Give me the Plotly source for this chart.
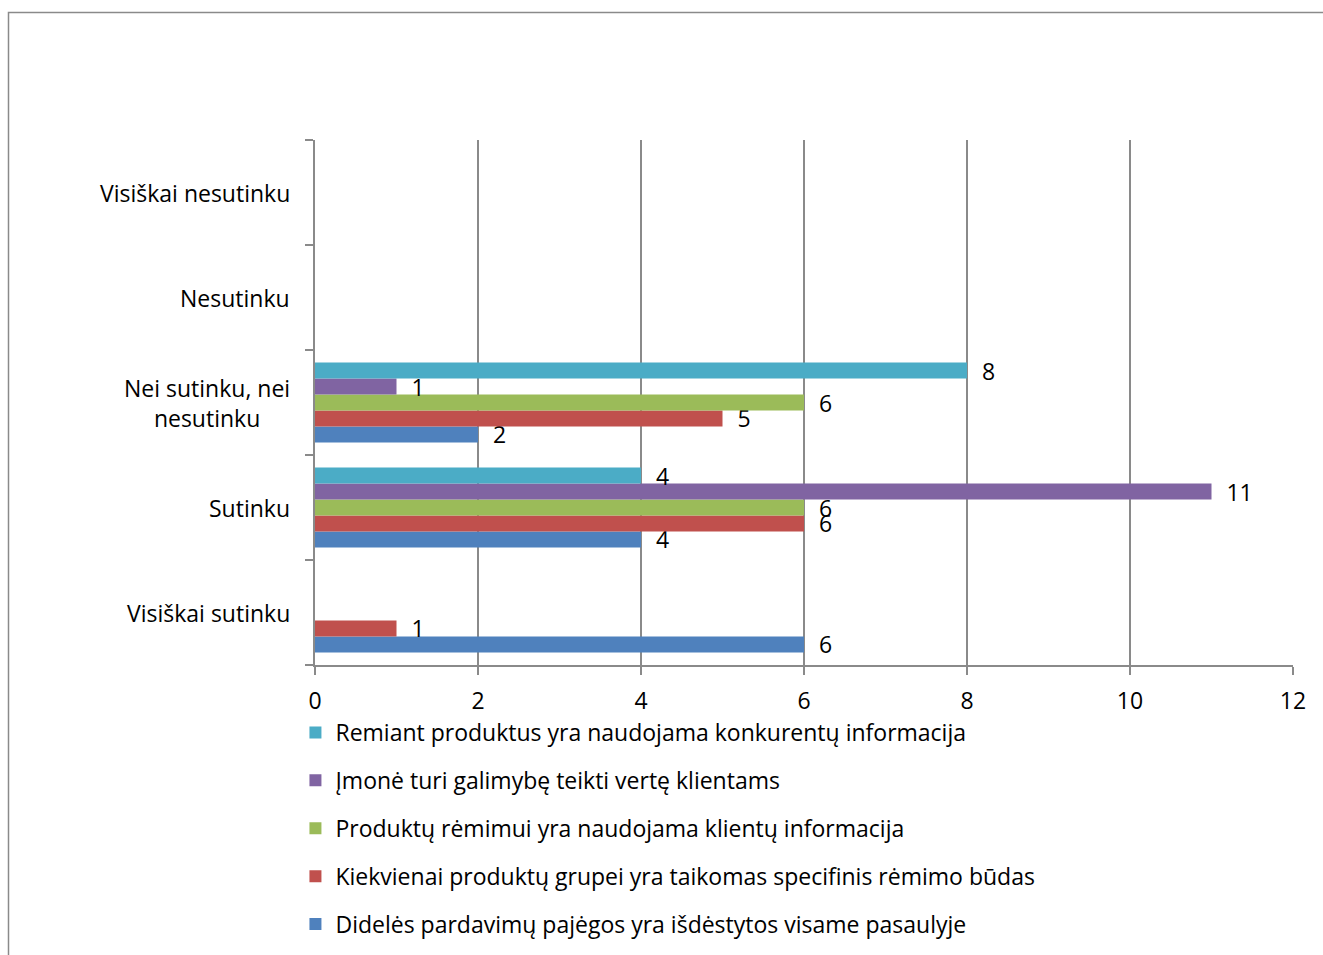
import plotly.graph_objects as go

# Response categories, bottom to top
categories = [
    "Visiškai sutinku",
    "Sutinku",
    "Nei sutinku, nei nesutinku",
    "Nesutinku",
    "Visiškai nesutinku",
]
category_labels = [
    "Visiškai sutinku",
    "Sutinku",
    "Nei sutinku, nei<br>nesutinku",
    "Nesutinku",
    "Visiškai nesutinku",
]

series_names = [
    "Didelės pardavimų pajėgos yra išdėstytos visame pasaulyje",
    "Kiekvienai produktų grupei yra taikomas specifinis rėmimo būdas",
    "Produktų rėmimui yra naudojama klientų informacija",
    "Įmonė turi galimybę teikti vertę klientams",
    "Remiant produktus yra naudojama konkurentų informacija",
]

pardavimu_pajegos = [6, 4, 2, None, None]
specifinis_remimas = [1, 6, 5, None, None]
klientu_informacija = [None, 6, 6, None, None]
verte_klientams = [None, 11, 1, None, None]
konkurentu_informacija = [None, 4, 8, None, None]

series_values = [
    pardavimu_pajegos,
    specifinis_remimas,
    klientu_informacija,
    verte_klientams,
    konkurentu_informacija,
]
colors = ["#4F81BD", "#C0504D", "#9BBB59", "#8064A2", "#4BACC6"]

x_ticks = [0, 2, 4, 6, 8, 10, 12]

FONT = "Open Sans"
FSIZE = 23
GRID = "#8a8a8a"

fig = go.Figure()
n = len(series_names)
for i, (name, vals, col) in enumerate(zip(series_names, series_values, colors)):
    fig.add_trace(
        go.Bar(
            y=categories,
            x=vals,
            name=name,
            orientation="h",
            marker=dict(color=col, line=dict(width=0)),
            text=[None if v is None else f"  {v}" for v in vals],
            textposition="outside",
            textfont=dict(family=FONT, size=FSIZE, color="black"),
            constraintext="none",
            cliponaxis=False,
            legendgroup=name,
            legendrank=n - i,
        )
    )

# category labels (centred multi-line text)
annotations = [
    dict(
        text=lab,
        x=-0.024,
        xref="paper",
        y=cat,
        yref="y",
        xanchor="right",
        yanchor="middle",
        align="center",
        showarrow=False,
        font=dict(family=FONT, size=FSIZE, color="black"),
    )
    for cat, lab in zip(categories, category_labels)
]

# outer chart frame
plot_w, plot_h = 978, 525
frame = dict(
    type="rect",
    xref="paper",
    yref="paper",
    x0=(8.5 - 315) / plot_w,
    x1=(1340 - 315) / plot_w,
    y0=(665 - 980) / plot_h,
    y1=(665 - 12.5) / plot_h,
    line=dict(color="#8a8a8a", width=1.5),
    fillcolor="rgba(0,0,0,0)",
    layer="below",
)

fig.update_layout(
    width=1323,
    height=955,
    margin=dict(l=315, r=30, t=140, b=290, autoexpand=False),
    paper_bgcolor="white",
    plot_bgcolor="white",
    barmode="group",
    bargap=0.24,
    bargroupgap=0,
    font=dict(family=FONT, size=FSIZE, color="black"),
    showlegend=True,
    legend=dict(
        orientation="v",
        traceorder="grouped",
        x=-0.02,
        xanchor="left",
        y=(665 - 711) / plot_h,
        yanchor="top",
        tracegroupgap=15,
        font=dict(family=FONT, size=FSIZE, color="black"),
        bgcolor="rgba(0,0,0,0)",
        itemclick=False,
    ),
    xaxis=dict(
        range=[0, 12],
        tickvals=x_ticks,
        ticktext=[str(t) for t in x_ticks],
        showgrid=True,
        gridcolor=GRID,
        gridwidth=1.5,
        showline=True,
        linecolor=GRID,
        linewidth=1.5,
        ticks="outside",
        ticklen=8,
        tickcolor=GRID,
        tickwidth=1.5,
        zeroline=False,
        ticklabelstandoff=7,
        tickfont=dict(family=FONT, size=FSIZE, color="black"),
    ),
    yaxis=dict(
        type="category",
        categoryorder="array",
        categoryarray=categories,
        range=[-0.5, 4.5],
        showticklabels=False,
        showgrid=False,
        showline=True,
        linecolor=GRID,
        linewidth=1.5,
        ticks="outside",
        tickson="boundaries",
        ticklen=8,
        tickcolor=GRID,
        tickwidth=1.5,
        zeroline=False,
    ),
    annotations=annotations,
    shapes=[frame],
)

fig.write_html("out.html")
